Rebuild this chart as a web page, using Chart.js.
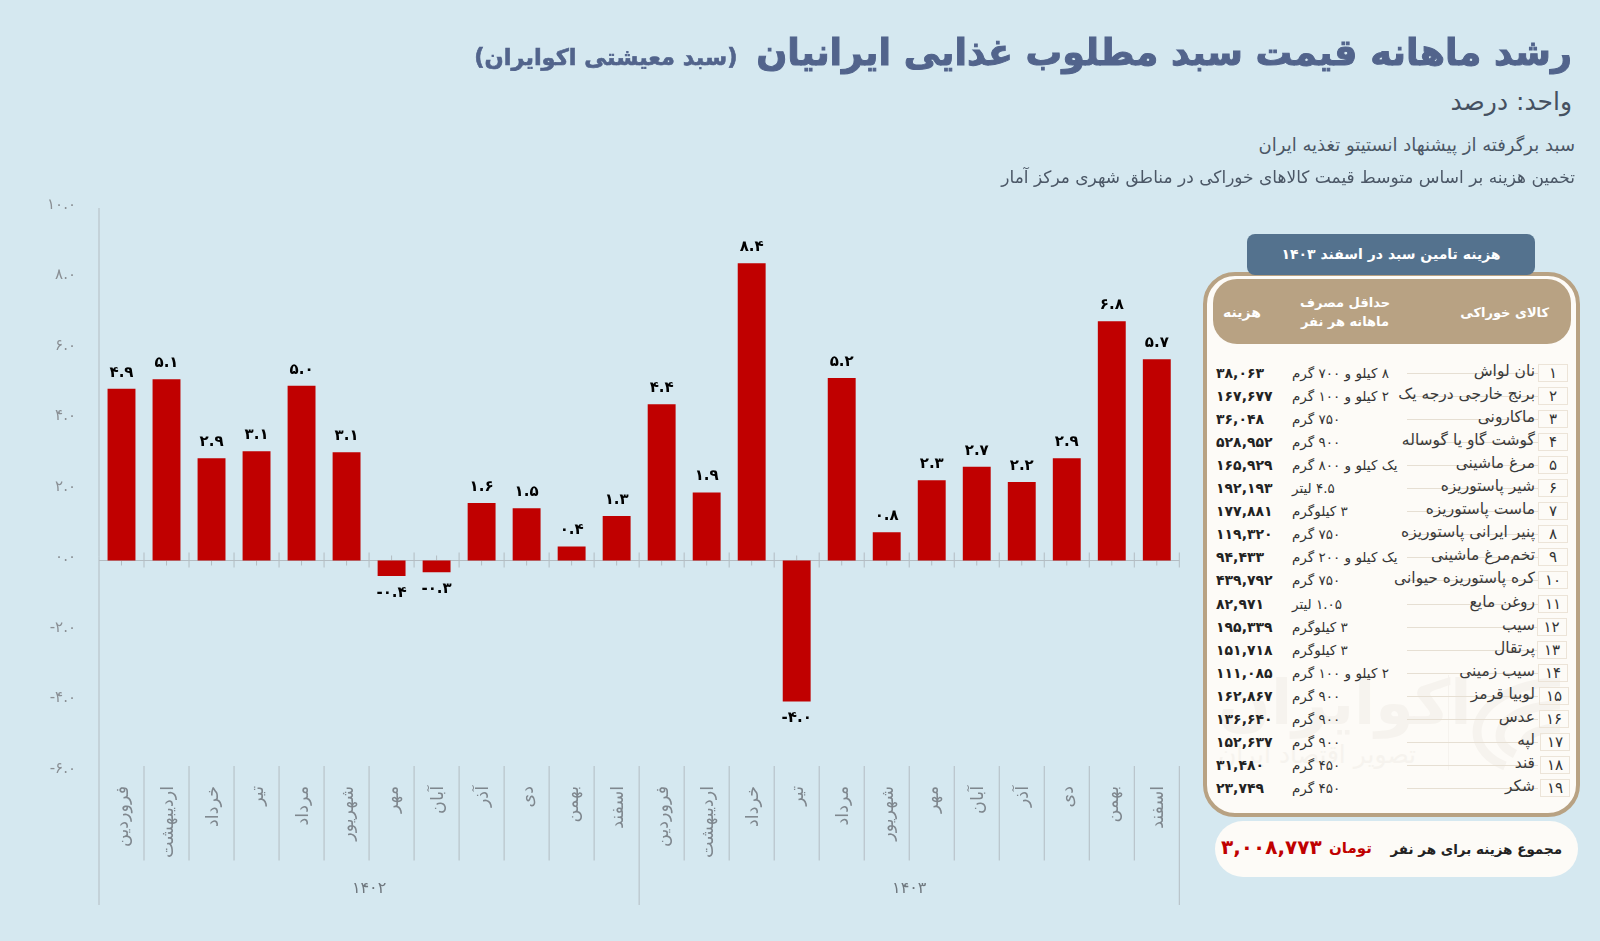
<!DOCTYPE html>
<html lang="fa">
<head>
<meta charset="utf-8">
<title>رشد ماهانه قیمت سبد مطلوب غذایی ایرانیان</title>
<script src="https://cdn.jsdelivr.net/npm/chart.js@4"></script>
<style>
  html, body { margin: 0; padding: 0; }
  body { width: 1600px; height: 941px; background: #d5e8f0; position: relative; overflow: hidden; font-family: "DejaVu Sans", sans-serif; }
  .abs { position: absolute; white-space: nowrap; }
  .rtl { direction: rtl; text-align: right; }
  #chartCanvas { position: absolute; left: 0; top: 0; }

  #title { right: 28px; top: 26px; line-height: 54px; font-size: 36.5px; font-weight: bold; color: #52648c; -webkit-text-stroke: 1px #52648c; }
  #title small { font-size: 22.5px; margin-right: 6px; -webkit-text-stroke: 0.6px #52648c; }
  #unit { right: 28px; top: 86px; line-height: 32px; font-size: 25px; color: #455161; }
  .note { right: 25px; line-height: 24px; color: #4b5766; }

  #tableHead { left: 1247px; top: 234px; width: 288px; height: 41px; line-height: 40px; border-radius: 8px; background: #54728e; color: #fff; font-size: 14px; font-weight: bold; text-align: center; z-index: 3; }
  #panel { left: 1203px; top: 272px; width: 369px; height: 537px; border: 4px solid #b8a283; border-radius: 32px; background: #fdfbf7; }
  #panelHead { left: 1213px; top: 279px; width: 358px; height: 65px; border-radius: 24px; background: #b8a283; }
  .headCell { color: #fff; font-size: 13px; font-weight: bold; text-align: center; line-height: 19px; }

  .rowLine { left: 1407px; width: 131px; height: 1px; background: #e6dfd3; }
  .rowBox { width: 28px; height: 16px; line-height: 17px; border: 1px solid #ece4d8; text-align: center; font-size: 15px; color: #333; }
  .rowName { right: 65px; line-height: 20px; font-size: 15.5px; color: #3a3a3a; }
  .rowQty { left: 1292px; line-height: 20px; font-size: 13.5px; color: #333; }
  .rowCost { left: 1216px; line-height: 20px; font-size: 14px; font-weight: bold; color: #222; }

  #mark1 { left: 1218px; top: 668px; line-height: 70px; font-size: 62px; font-weight: bold; color: #f6f3ee; }
  #mark2 { left: 1218px; top: 741px; line-height: 28px; font-size: 25px; color: #f6f3ee; }
  #markRule { left: 1448px; top: 675px; width: 1px; height: 95px; background: #f6f3ee; }
  #markLogo { left: 1465px; top: 670px; }

  #totalPill { left: 1215px; top: 821px; width: 363px; height: 56px; border-radius: 28px; background: #fdfbf7; }
  #totalLabel { right: 38px; top: 837px; line-height: 24px; font-size: 13.5px; font-weight: bold; color: #222; }
  #totalUnit { left: 1329px; top: 836px; line-height: 24px; font-size: 15px; font-weight: bold; color: #c00000; }
  #totalCost { left: 1221px; top: 830px; line-height: 34px; font-size: 20px; font-weight: bold; color: #c00000; }
</style>
</head>
<body>
<canvas id="chartCanvas" width="1190" height="941"></canvas>

<div class="abs rtl" id="title">رشد ماهانه قیمت سبد مطلوب غذایی ایرانیان <small>(سبد معیشتی اکوایران)</small></div>
<div class="abs rtl" id="unit">واحد: درصد</div>
<div class="abs rtl note" style="top:133px;font-size:18px">سبد برگرفته از پیشنهاد انستیتو تغذیه ایران</div>
<div class="abs rtl note" style="top:165px;font-size:17px">تخمین هزینه بر اساس متوسط قیمت کالاهای خوراکی در مناطق شهری مرکز آمار</div>

<div class="abs rtl" id="tableHead">هزینه تامین سبد در اسفند ۱۴۰۳</div>
<div class="abs" id="panel"></div>
<div class="abs" id="panelHead"></div>
<div class="abs rtl headCell" style="right:51px;top:303px">کالای خوراکی</div>
<div class="abs headCell" style="left:1285px;width:120px;top:293px;direction:rtl">حداقل مصرف<br>ماهانه هر نفر</div>
<div class="abs headCell" style="left:1212px;width:60px;top:303px;direction:rtl;font-size:14px">هزینه</div>

<div class="abs rtl" id="mark1">اکوایران</div>
<div class="abs rtl" id="mark2">تصویر اقتصاد ایران</div>
<div class="abs" id="markRule"></div>
<svg class="abs" id="markLogo" width="100" height="100" fill="none" stroke="#f6f3ee" stroke-width="9">
  <path d="M95 12 C50 12 12 35 12 62 C12 78 25 90 40 96"/>
  <path d="M95 35 C62 35 35 48 35 66 C35 74 42 80 50 84"/>
  <path d="M95 58 C78 58 60 64 60 72"/>
</svg>
<div id="rows"></div>

<div class="abs" id="totalPill"></div>
<div class="abs rtl" id="totalLabel">مجموع هزینه برای هر نفر</div>
<div class="abs rtl" id="totalUnit">تومان</div>
<div class="abs" id="totalCost">۳,۰۰۸,۷۷۳</div>

<script>
// chart data
const months = ["فروردین", "اردیبهشت", "خرداد", "تیر", "مرداد", "شهریور", "مهر", "آبان", "آذر", "دی", "بهمن", "اسفند",
                "فروردین", "اردیبهشت", "خرداد", "تیر", "مرداد", "شهریور", "مهر", "آبان", "آذر", "دی", "بهمن", "اسفند"];
const growth = [4.87, 5.14, 2.9, 3.1, 4.96, 3.07, -0.44, -0.33, 1.63, 1.48, 0.4, 1.26,
                4.43, 1.93, 8.43, -4.0, 5.18, 0.8, 2.28, 2.66, 2.23, 2.9, 6.79, 5.71];
const years = ["۱۴۰۲", "۱۴۰۳"];
const monthsPerYear = 12;

// table data
const itemNames = ["نان لواش", "برنج خارجی درجه یک", "ماکارونی", "گوشت گاو یا گوساله", "مرغ ماشینی", "شیر پاستوریزه", "ماست پاستوریزه",
                   "پنیر ایرانی پاستوریزه", "تخم‌مرغ ماشینی", "کره پاستوریزه حیوانی", "روغن مایع", "سیب", "پرتقال", "سیب زمینی",
                   "لوبیا قرمز", "عدس", "لپه", "قند", "شکر"];
const itemAmounts = ["۸ کیلو و ۷۰۰ گرم", "۲ کیلو و ۱۰۰ گرم", "۷۵۰ گرم", "۹۰۰ گرم", "یک کیلو و ۸۰۰ گرم", "۴.۵ لیتر", "۳ کیلوگرم",
                     "۷۵۰ گرم", "یک کیلو و ۲۰۰ گرم", "۷۵۰ گرم", "۱.۰۵ لیتر", "۳ کیلوگرم", "۳ کیلوگرم", "۲ کیلو و ۱۰۰ گرم",
                     "۹۰۰ گرم", "۹۰۰ گرم", "۹۰۰ گرم", "۴۵۰ گرم", "۴۵۰ گرم"];
const itemCosts = ["۳۸,۰۶۳", "۱۶۷,۶۷۷", "۳۶,۰۴۸", "۵۲۸,۹۵۲", "۱۶۵,۹۲۹", "۱۹۲,۱۹۳", "۱۷۷,۸۸۱", "۱۱۹,۳۲۰", "۹۴,۴۳۳", "۴۳۹,۷۹۲",
                   "۸۲,۹۷۱", "۱۹۵,۳۳۹", "۱۵۱,۷۱۸", "۱۱۱,۰۸۵", "۱۶۲,۸۶۷", "۱۳۶,۶۴۰", "۱۵۲,۶۳۷", "۳۱,۴۸۰", "۲۳,۷۴۹"];

function toFa(s) {
    return String(s).replace(/\d/g, d => "۰۱۲۳۴۵۶۷۸۹"[d]);
}

// table rows, the last boxes sit slightly out of line in the original
const boxNudge = [0, 0, 0, 0, 0, 0, 0, 0, 0, 0, 0, -1.5, -1, 0, 1, 1, 2, 2, 2];
const rows = document.getElementById("rows");
itemNames.forEach((name, i) => {
    const y = 373 + i * 23.05;
    rows.insertAdjacentHTML("beforeend",
        `<div class="abs rowLine" style="top:${y}px"></div>` +
        `<div class="abs rowBox" style="left:${1538 + boxNudge[i]}px;top:${y - 9}px">${toFa(i + 1)}</div>` +
        `<div class="abs rtl rowName" style="top:${y - 12}px">${name}</div>` +
        `<div class="abs rtl rowQty" style="top:${y - 10}px">${itemAmounts[i]}</div>` +
        `<div class="abs rowCost" style="top:${y - 10}px">${itemCosts[i]}</div>`);
});

// axis lines, month and year separators, value labels
const chartDecor = {
    id: "chartDecor",
    beforeDatasetsDraw(chart) {
        const { ctx, scales: { x, y } } = chart;
        const zero = y.getPixelForValue(0);
        const line = (x1, y1, x2, y2) => {
            ctx.beginPath();
            ctx.moveTo(x1, y1);
            ctx.lineTo(x2, y2);
            ctx.stroke();
        };
        ctx.save();
        ctx.strokeStyle = "#b3bcc2";
        ctx.lineWidth = 1;
        line(x.left, y.top, x.left, 905);
        line(x.left, zero, x.right, zero);
        months.forEach((m, i) => {
            const center = x.getPixelForValue(i);
            const edge = x.getPixelForValue(i + 0.5);
            line(center, zero - 5, center, zero + 5);
            line(edge, zero - 8, edge, zero + 7);
            const yearEnd = (i + 1) % monthsPerYear === 0;
            line(edge, 766, edge, yearEnd ? 905 : 860.5);
        });
        ctx.restore();
    },
    afterDatasetsDraw(chart) {
        const { ctx, scales: { x } } = chart;
        ctx.save();
        ctx.textAlign = "center";
        ctx.textBaseline = "middle";
        ctx.fillStyle = "#000";
        ctx.font = "600 15px 'DejaVu Sans'";
        chart.getDatasetMeta(0).data.forEach((bar, i) => {
            const v = growth[i];
            ctx.fillText(toFa(v.toFixed(1)), bar.x, bar.y + (v < 0 ? 17 : -16));
        });
        ctx.fillStyle = "#6f777e";
        ctx.font = "16px 'DejaVu Sans'";
        years.forEach((year, i) => {
            const mid = x.getPixelForValue((i + 0.5) * monthsPerYear - 0.5);
            ctx.fillText(year, mid, 889);
        });
        ctx.restore();
    }
};

new Chart(document.getElementById("chartCanvas"), {
    type: "bar",
    data: {
        labels: months,
        datasets: [{
            data: growth,
            backgroundColor: "#c00000",
            borderWidth: 0,
            barPercentage: 0.62,
            categoryPercentage: 1
        }]
    },
    options: {
        responsive: false,
        animation: false,
        layout: { autoPadding: false, padding: { top: 208, right: 10.7, left: 0, bottom: 0 } },
        plugins: { legend: { display: false }, tooltip: { enabled: false } },
        scales: {
            x: {
                grid: { display: false },
                border: { display: false },
                afterFit(scale) { scale.height = 169; },
                ticks: {
                    autoSkip: false,
                    minRotation: 90,
                    maxRotation: 90,
                    padding: 6,
                    labelOffset: 2,
                    color: "#7f878e",
                    font: { family: "'DejaVu Sans'", size: 17.5 }
                }
            },
            y: {
                min: -6,
                max: 10,
                grid: { display: false },
                border: { display: false },
                afterFit(scale) { scale.width = 99; },
                ticks: {
                    stepSize: 2,
                    padding: 15,
                    labelOffset: -3,
                    color: "#8a8f94",
                    font: { family: "'DejaVu Sans'", size: 15 },
                    callback: v => toFa(v.toFixed(1))
                }
            }
        }
    },
    plugins: [chartDecor]
});
</script>
</body>
</html>
